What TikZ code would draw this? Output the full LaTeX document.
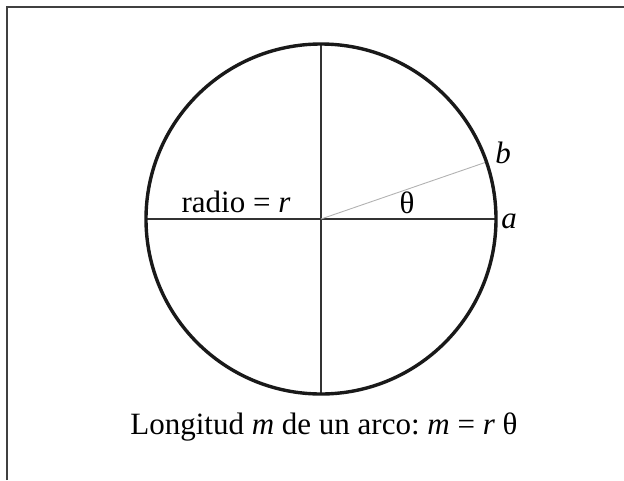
\documentclass[tikz,border=0pt]{standalone}
\usepackage{fontspec}
\setmainfont{Liberation Serif}
\usetikzlibrary{calc}
\frenchspacing
\begin{document}
\begin{tikzpicture}[x=1pt, y=-1pt,
  every node/.style = {inner sep=0pt, anchor=base,
    font=\fontsize{31}{37}\selectfont},
  rim/.style = {line width=3.4pt, black!90},
  diam/.style = {line width=1.8pt, black!80},
  ray/.style = {line width=0.9pt, black!30}]
  \useasboundingbox (0,0) rectangle (624,480);
  \draw[line width=2.2pt, black!75] (7,480) -- (7,7) -- (624,7);
  \coordinate (o) at (321,219);
  \coordinate (l) at ($(o)+(-175,0)$);
  \coordinate (a) at ($(o)+(175,0)$);
  \coordinate (t) at ($(o)+(0,-175)$);
  \coordinate (d) at ($(o)+(0,175)$);
  \coordinate (b) at ($(o)+(-19:175)$);
  \draw[diam] (l) -- (a);
  \draw[diam] (t) -- (d);
  \draw[ray] (o) -- (b);
  \draw[rim] (o) circle (175);
  \node (radio) at (236,212) {radio = \textit{r}};
  \node (theta) at (407,213) {θ};
  \node (alabel) at (509,228) {\textit{a}};
  \node (blabel) at (503,163) {\textit{b}};
  \node (caption) at (324,434) {Longitud \textit{m} de un arco: \textit{m} = \textit{r} θ};
\end{tikzpicture}
\end{document}
